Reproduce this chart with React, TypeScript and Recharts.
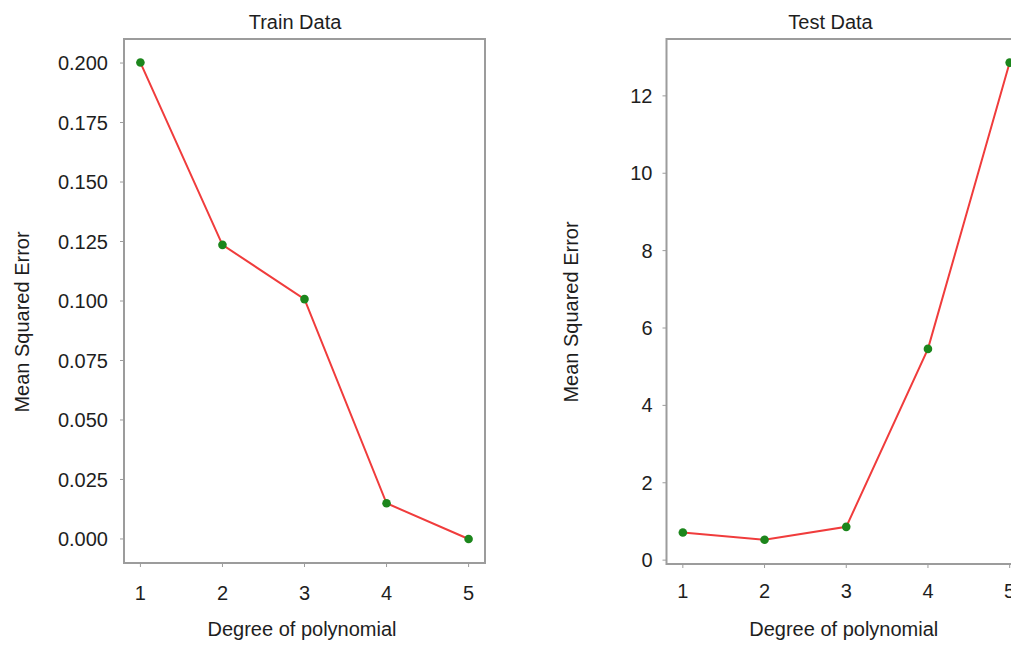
import React from 'react'
import { LineChart, Line, XAxis, YAxis, ReferenceArea, Label } from 'recharts'

const degrees = [1, 2, 3, 4, 5]
const trainMse = [0.2002, 0.1236, 0.1008, 0.015, 0.0]
const testMse = [0.716, 0.525, 0.86, 5.46, 12.86]
const trainTicks = [0, 0.025, 0.05, 0.075, 0.1, 0.125, 0.15, 0.175, 0.2]
const testTicks = [0, 2, 4, 6, 8, 10, 12]
const xTicks = [1, 2, 3, 4, 5]

const FONT = '"Liberation Sans", Arial, Helvetica, sans-serif'
const TEXT = '#1e1e1e'
const FRAME = '#9c9c9c'
const LINE = '#f03c3c'
const DOT = '#1c861c'

const trainData = degrees.map((d, i) => ({ degree: d, mse: trainMse[i] }))
const testData = degrees.map((d, i) => ({ degree: d, mse: testMse[i] }))

const tickStyle = { fill: TEXT, fontSize: 20, fontFamily: FONT }

function yLabel(x: number, dy: number) {
  return (props: any) => {
    const vb = props.viewBox
    const cy = vb.y + vb.height / 2 + dy
    return (
      <text
        x={x}
        y={cy}
        transform={`rotate(-90, ${x}, ${cy})`}
        textAnchor="middle"
        dominantBaseline="central"
        fill={TEXT}
        fontSize={20}
        fontFamily={FONT}
      >
        Mean Squared Error
      </text>
    )
  }
}

function xLabel(dx: number, baseline: number) {
  return (props: any) => {
    const vb = props.viewBox
    return (
      <text
        x={vb.x + vb.width / 2 + dx}
        y={baseline}
        textAnchor="middle"
        fill={TEXT}
        fontSize={20}
        fontFamily={FONT}
      >
        Degree of polynomial
      </text>
    )
  }
}

interface PanelProps {
  data: { degree: number; mse: number }[]
  yDomain: [number, number]
  yTicks: number[]
  fmt: (v: number) => string
  width: number
  yAxisWidth: number
  xAxisHeight: number
  marginRight: number
  yTickMargin: number
  xTickMargin: number
  yLabelX: number
  yLabelDy: number
}

function Panel(p: PanelProps) {
  return (
    <LineChart
      width={p.width}
      height={662}
      data={p.data}
      margin={{ top: 39, right: p.marginRight, bottom: 0, left: 0 }}
    >
      <XAxis
        type="number"
        dataKey="degree"
        domain={[0.8, 5.2]}
        ticks={xTicks}
        allowDataOverflow
        axisLine={false}
        tickSize={4}
        tickMargin={p.xTickMargin}
        tickLine={{ stroke: FRAME }}
        tick={tickStyle}
        height={p.xAxisHeight}
      >
        <Label content={xLabel(-2.5, 636)} />
      </XAxis>
      <YAxis
        type="number"
        domain={p.yDomain}
        ticks={p.yTicks}
        allowDataOverflow
        axisLine={false}
        tickSize={4}
        tickMargin={p.yTickMargin}
        tickLine={{ stroke: FRAME }}
        tick={tickStyle}
        tickFormatter={p.fmt}
        width={p.yAxisWidth}
      >
        <Label content={yLabel(p.yLabelX, p.yLabelDy)} />
      </YAxis>
      <ReferenceArea
        x1={0.8}
        x2={5.2}
        y1={p.yDomain[0]}
        y2={p.yDomain[1]}
        fill="none"
        stroke={FRAME}
        strokeWidth={2}
        ifOverflow="visible"
      />
      <Line
        dataKey="mse"
        stroke="none"
        dot={{ r: 4.3, fill: DOT, stroke: 'none' }}
        activeDot={false}
        isAnimationActive={false}
      />
      <Line
        dataKey="mse"
        stroke={LINE}
        strokeWidth={2}
        dot={false}
        activeDot={false}
        isAnimationActive={false}
      />
    </LineChart>
  )
}

const titleStyle: React.CSSProperties = {
  position: 'absolute',
  top: 11,
  fontFamily: FONT,
  fontSize: 20,
  lineHeight: '23px',
  color: TEXT,
  whiteSpace: 'nowrap',
  transform: 'translateX(-50%)',
}

export default function App() {
  return (
    <div
      style={{
        position: 'absolute',
        left: 0,
        top: 0,
        width: 1011,
        height: 662,
        overflow: 'hidden',
        background: '#fff',
      }}
    >
      <div style={{ position: 'absolute', left: 0, top: 0 }}>
        <Panel
          data={trainData}
          yDomain={[-0.0101, 0.2101]}
          yTicks={trainTicks}
          fmt={(v) => v.toFixed(3)}
          width={500}
          yAxisWidth={124}
          xAxisHeight={99}
          marginRight={15}
          yTickMargin={12}
          xTickMargin={19}
          yLabelX={22}
          yLabelDy={21}
        />
      </div>
      <div style={{ position: 'absolute', left: 500, top: 0 }}>
        <Panel
          data={testData}
          yDomain={[-0.1, 13.47]}
          yTicks={testTicks}
          fmt={(v) => String(v)}
          width={540}
          yAxisWidth={166.5}
          xAxisHeight={98}
          marginRight={14}
          yTickMargin={10}
          xTickMargin={16}
          yLabelX={70.5}
          yLabelDy={10.5}
        />
      </div>
      <div style={{ ...titleStyle, left: 295 }}>Train Data</div>
      <div style={{ ...titleStyle, left: 830.5 }}>Test Data</div>
    </div>
  )
}
